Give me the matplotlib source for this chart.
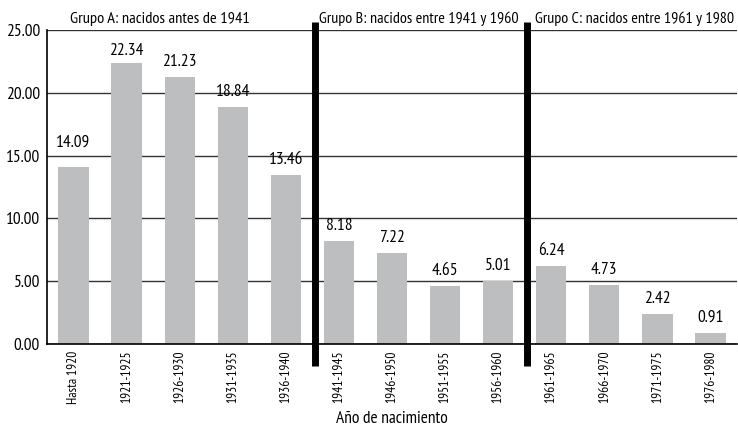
import numpy as np
import matplotlib
matplotlib.use('Agg')
import matplotlib.pyplot as plt

plt.rcParams['font.family'] = ['PT Sans Narrow', 'DejaVu Sans']

cohorts = ['Hasta 1920', '1921-1925', '1926-1930', '1931-1935', '1936-1940',
           '1941-1945', '1946-1950', '1951-1955', '1956-1960',
           '1961-1965', '1966-1970', '1971-1975', '1976-1980']
values = [14.09, 22.34, 21.23, 18.84, 13.46,
          8.18, 7.22, 4.65, 5.01,
          6.24, 4.73, 2.42, 0.91]
group_titles = ['Grupo A: nacidos antes de 1941',
                'Grupo B: nacidos entre 1941 y 1960',
                'Grupo C: nacidos entre 1961 y 1980']
group_start = [0, 5, 9]  # first cohort index of each group

fig = plt.figure(figsize=(7.38, 4.28), dpi=100)
ax = fig.add_axes([47/738, 1 - 344/428, 690/738, (344 - 30)/428])

x = np.arange(len(cohorts))
ax.bar(x, values, width=0.57, color='#bdbebf', zorder=2)
for xi, v in zip(x, values):
    off = 0.55
    if 14 < v < 15:  # label pushed above the 15 gridline, like the original
        off = 1.3
    elif v > 22:
        off = 0.35
    ax.text(xi, v + off, f'{v:.2f}', ha='center', va='bottom', fontsize=12.5)

ax.set_xlim(-0.5, len(cohorts) - 0.5)
ax.set_ylim(0, 25)
ax.set_yticks(np.arange(0, 26, 5))
ax.set_yticklabels([f'{t:.2f}' for t in np.arange(0, 26, 5)], fontsize=12.5)
ax.set_xticks(x)
ax.set_xticklabels(cohorts, rotation=90, fontsize=9.7)
ax.tick_params(axis='both', length=0, pad=5)
ax.yaxis.grid(True, color='#333333', lw=1, zorder=1)
ax.spines['top'].set_visible(False)
ax.spines['right'].set_visible(False)
ax.spines['left'].set_linewidth(1.2)
ax.spines['bottom'].set_linewidth(1.2)
ax.set_axisbelow(True)

# thick separators between groups
for g in group_start[1:]:
    ax.plot([g - 0.45, g - 0.45], [-1.75, 25.65], color='black', lw=5,
            clip_on=False, zorder=4, solid_capstyle='butt')

ax.text(-0.07, 25.3, group_titles[0], ha='left', va='bottom', fontsize=11.8)
ax.text(4.63, 25.3, group_titles[1], ha='left', va='bottom', fontsize=11.5)
ax.text(8.7, 25.3, group_titles[2], ha='left', va='bottom', fontsize=11.5)

fig.text(392/738, 1 - 419/428, 'Año de nacimiento', ha='center', va='center', fontsize=12.5)

fig.savefig('out.png', dpi=100)
